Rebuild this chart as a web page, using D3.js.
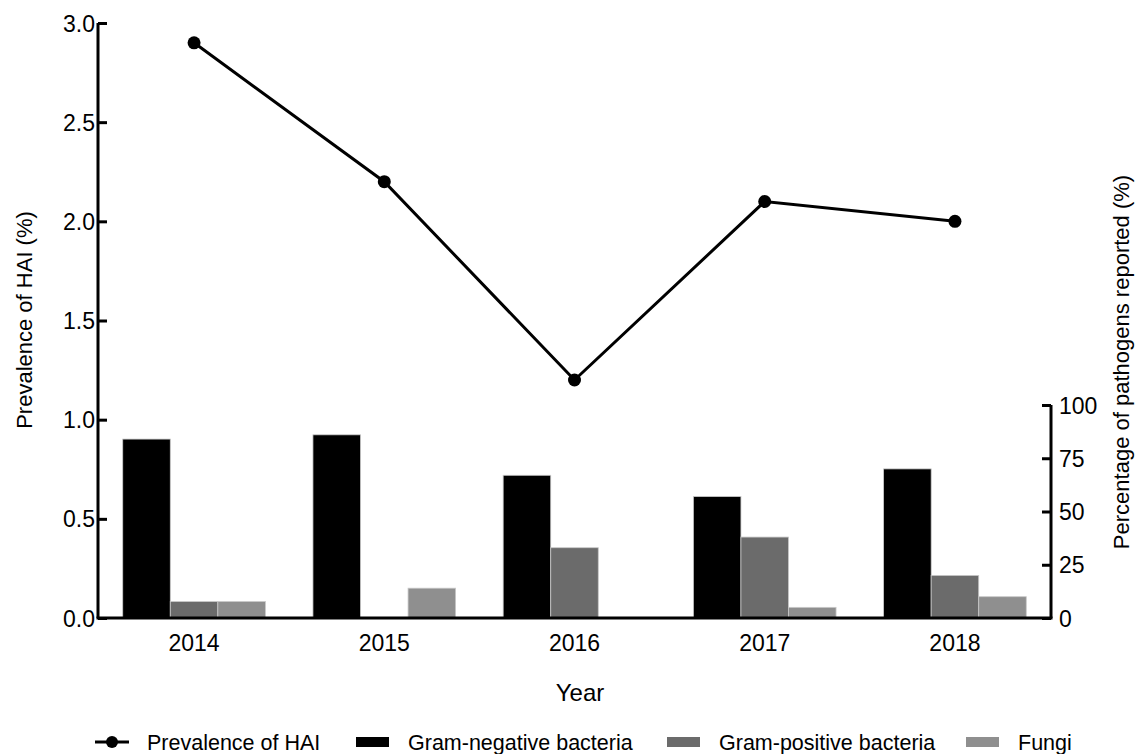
<!DOCTYPE html>
<html>
<head>
<meta charset="utf-8">
<script src="https://cdn.jsdelivr.net/npm/d3@7"></script>
<style>
  body { margin: 0; background: #fff; }
  svg { font-family: "Liberation Sans", Arial, sans-serif; }
</style>
</head>
<body>
<div id="chart"></div>
<script>
// Data
const years = ["2014", "2015", "2016", "2017", "2018"];
const prevalence = [2.9, 2.2, 1.2, 2.1, 2.0];
const gramNegative = [84, 86, 67, 57, 70];
const gramPositive = [7.7, 0, 33, 38, 20];
const fungi = [7.7, 14, 0, 5, 10];
const leftTicks = [0, 0.5, 1.0, 1.5, 2.0, 2.5, 3.0];
const rightTicks = [0, 25, 50, 75, 100];

const seriesNames = ["Gram-negative bacteria", "Gram-positive bacteria", "Fungi"];
const seriesColors = ["#000000", "#6b6b6b", "#8f8f8f"];
const seriesValues = [gramNegative, gramPositive, fungi];

const width = 1136, height = 754;
const plotLeft = 98, plotRight = 1051, plotBottom = 618, plotTop = 23;

const svg = d3.select('#chart')
    .append('svg')
    .attr('width', width)
    .attr('height', height);

const x = d3.scaleBand()
    .domain(years)
    .range([plotLeft, plotRight])
    .paddingInner(0.25)
    .paddingOuter(0.13);

const xSub = d3.scaleBand()
    .domain(seriesNames)
    .range([0, x.bandwidth()]);

const yLeft = d3.scaleLinear().domain([0, 3]).range([plotBottom, plotTop]);
const yRight = d3.scaleLinear().domain([0, 100]).range([plotBottom, 405]);

// Bars
seriesNames.forEach((name, si) => {
    svg.append('g')
        .selectAll('rect')
        .data(years)
        .join('rect')
        .attr('x', d => x(d) + xSub(name))
        .attr('y', (d, i) => yRight(seriesValues[si][i]))
        .attr('width', xSub.bandwidth())
        .attr('height', (d, i) => plotBottom - yRight(seriesValues[si][i]))
        .style('fill', seriesColors[si])
        .style('stroke', '#c8c8c8')
        .style('stroke-width', 0.8)
        .style('display', (d, i) => seriesValues[si][i] > 0 ? null : 'none');
});

// Axes
const leftAxis = svg.append('g')
    .attr('transform', `translate(${plotLeft},0)`)
    .call(d3.axisRight(yLeft).tickValues(leftTicks).tickSize(9).tickFormat(d3.format('.1f')));
leftAxis.select('.domain').attr('d', `M0,${plotTop}V${plotBottom}`);
leftAxis.selectAll('text')
    .attr('x', -3)
    .attr('text-anchor', 'end');

const rightAxis = svg.append('g')
    .attr('transform', `translate(${plotRight},0)`)
    .call(d3.axisLeft(yRight).tickValues(rightTicks).tickSize(9));
rightAxis.select('.domain').attr('d', `M0,405V${plotBottom}`);
rightAxis.selectAll('text')
    .attr('x', 8)
    .attr('text-anchor', 'start');

[leftAxis, rightAxis].forEach(g => {
    g.selectAll('.domain, line').style('stroke', '#000').style('stroke-width', 3);
    g.selectAll('text').style('font-size', '23px').style('fill', '#000').attr('dy', '0.35em');
});

const bottomAxis = svg.append('g')
    .attr('transform', `translate(0,${plotBottom})`)
    .call(d3.axisBottom(x).tickSize(0).tickPadding(17));
bottomAxis.select('.domain').style('stroke', '#000').style('stroke-width', 3)
    .attr('d', `M${plotLeft - 1.5},0H${plotRight + 1.5}`);
bottomAxis.selectAll('text').style('font-size', '23px').style('fill', '#000');

// Line
const line = d3.line()
    .x((d, i) => x(years[i]) + x.bandwidth() / 2)
    .y(d => yLeft(d));

svg.append('path')
    .datum(prevalence)
    .attr('d', line)
    .style('fill', 'none')
    .style('stroke', '#000')
    .style('stroke-width', 3);

svg.append('g')
    .selectAll('circle')
    .data(prevalence)
    .join('circle')
    .attr('cx', (d, i) => x(years[i]) + x.bandwidth() / 2)
    .attr('cy', d => yLeft(d))
    .attr('r', 6.5)
    .style('fill', '#000');

// Axis titles
svg.append('text')
    .attr('transform', 'translate(32,320) rotate(-90)')
    .attr('text-anchor', 'middle')
    .style('font-size', '22px')
    .text('Prevalence of HAI (%)');

svg.append('text')
    .attr('transform', 'translate(1129,362) rotate(-90)')
    .attr('text-anchor', 'middle')
    .style('font-size', '22px')
    .text('Percentage of pathogens reported (%)');

svg.append('text')
    .attr('x', 580)
    .attr('y', 701)
    .attr('text-anchor', 'middle')
    .style('font-size', '24px')
    .text('Year');

// Legend
const legY = 742;
const leg = svg.append('g').style('font-size', '21.5px');
leg.append('line')
    .attr('x1', 95).attr('x2', 129).attr('y1', legY).attr('y2', legY)
    .style('stroke', '#000').style('stroke-width', 3);
leg.append('circle').attr('cx', 112).attr('cy', legY).attr('r', 6).style('fill', '#000');
leg.append('text').attr('x', 147).attr('y', legY).attr('dy', '0.35em').text('Prevalence of HAI');

const legX = [356, 667, 966];
seriesNames.forEach((name, i) => {
    leg.append('rect')
        .attr('x', legX[i]).attr('y', legY - 5)
        .attr('width', 33).attr('height', 10)
        .style('fill', seriesColors[i]);
    leg.append('text')
        .attr('x', legX[i] + 52).attr('y', legY).attr('dy', '0.35em')
        .text(name);
});
</script>
</body>
</html>
